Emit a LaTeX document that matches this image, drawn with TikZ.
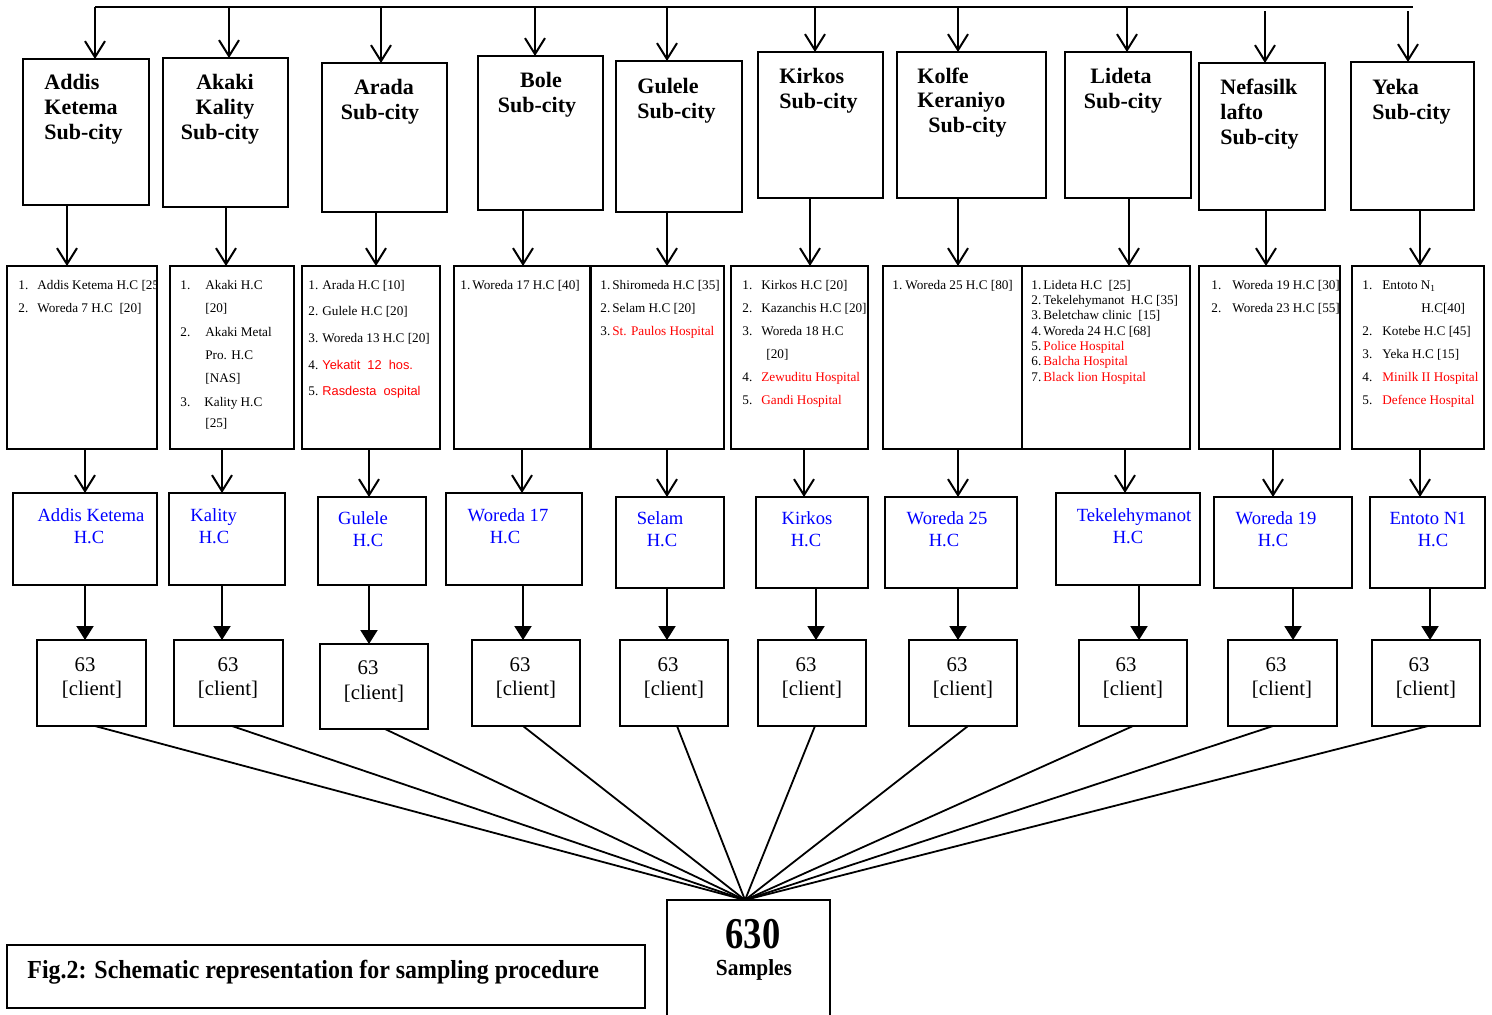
\documentclass[tikz,border=0pt]{standalone}
\usepackage{fontspec}
\setmainfont{Liberation Serif}
\newfontfamily\arialf{Liberation Sans}
\usetikzlibrary{arrows.meta}
\definecolor{hcblue}{RGB}{0,0,255}
\definecolor{hosred}{RGB}{255,0,0}
\newcounter{tcnt}
\newcommand\mytext[4]{\stepcounter{tcnt}\node[#1] (txt\arabic{tcnt}) at (#2,#3) {#4};}
\newcommand\mkbox[5]{\node[bx, minimum width={(#4-#2)*0.5pt}, minimum height={(#5-#3)*0.5pt}] (#1) at ({(#2+#4)/2},{(#3+#5)/2}) {};}
\begin{document}
\begin{tikzpicture}[x=0.5pt,y=-0.5pt,
  bx/.style={draw, line width=1pt, inner sep=0pt, outer sep=0pt, fill=none},
  va/.style={line width=1pt, -{Straight Barb[length=8pt,width=10pt,line width=1pt]}},
  fa/.style={line width=1pt, -{Triangle[length=7pt,width=8.5pt]}},
  fan/.style={line width=0.9pt},
  tt/.style={font=\bfseries\fontsize{11}{13}\selectfont, inner sep=0pt},
  ls/.style={font=\fontsize{6.6}{8}\selectfont, inner sep=0pt, anchor=base west},
  lr/.style={ls, text=hosred},
  la/.style={font=\arialf\fontsize{6.4}{8}\selectfont, inner sep=0pt, anchor=base west, text=hosred},
  hc/.style={font=\fontsize{9.3}{11}\selectfont, inner sep=0pt, text=hcblue, anchor=base},
  cl/.style={font=\fontsize{10.4}{12}\selectfont, inner sep=0pt, anchor=base}]
\useasboundingbox (0,0) rectangle (1492,1014);

% ---------- top sub-city boxes
\mkbox{tb1}{23}{59}{149}{205}
\mkbox{tb2}{163}{58}{288}{207}
\mkbox{tb3}{322}{63}{447}{212}
\mkbox{tb4}{478}{56}{603}{210}
\mkbox{tb5}{616}{61}{742}{212}
\mkbox{tb6}{758}{52}{883}{198}
\mkbox{tb7}{897}{52}{1046}{198}
\mkbox{tb8}{1065}{52}{1191}{198}
\mkbox{tb9}{1199}{63}{1325}{210}
\mkbox{tb10}{1351}{62}{1474}{210}

\mytext{tt,anchor=base west}{44}{89}{Addis}
\mytext{tt,anchor=base west}{44}{114}{Ketema}
\mytext{tt,anchor=base west}{44}{139}{Sub-city}
\mytext{tt,anchor=base}{225}{89}{Akaki}
\mytext{tt,anchor=base}{225}{114}{Kality}
\mytext{tt,anchor=base}{220}{139}{Sub-city}
\mytext{tt,anchor=base}{384}{94}{Arada}
\mytext{tt,anchor=base}{380}{119}{Sub-city}
\mytext{tt,anchor=base}{541}{87}{Bole}
\mytext{tt,anchor=base}{537}{112}{Sub-city}
\mytext{tt,anchor=base west}{637}{93}{Gulele}
\mytext{tt,anchor=base west}{637}{118}{Sub-city}
\mytext{tt,anchor=base west}{779}{83}{Kirkos}
\mytext{tt,anchor=base west}{779}{108}{Sub-city}
\mytext{tt,anchor=base west}{917}{83}{Kolfe}
\mytext{tt,anchor=base west}{917}{107}{Keraniyo}
\mytext{tt,anchor=base west}{928}{132}{Sub-city}
\mytext{tt,anchor=base}{1121}{83}{Lideta}
\mytext{tt,anchor=base}{1123}{108}{Sub-city}
\mytext{tt,anchor=base west}{1220}{94}{Nefasilk}
\mytext{tt,anchor=base west}{1220}{119}{lafto}
\mytext{tt,anchor=base west}{1220}{144}{Sub-city}
\mytext{tt,anchor=base west}{1372}{94}{Yeka}
\mytext{tt,anchor=base west}{1372}{119}{Sub-city}

% ---------- bus and drops
\coordinate (busL) at (95,7);
\coordinate (busR) at (1413,7);
\draw[line width=1pt] (busL) -- (busR);
\coordinate (d1) at (95,7);
\coordinate (d2) at (229,7);
\coordinate (d3) at (381,7);
\coordinate (d4) at (535,7);
\coordinate (d5) at (667,7);
\coordinate (d6) at (815,7);
\coordinate (d7) at (958,7);
\coordinate (d8) at (1127,7);
\coordinate (d9) at (1265,11);
\coordinate (d10) at (1408,11);
\foreach \i in {1,...,10}{\draw[va] (d\i) -- (tb\i.north -| d\i);}

% ---------- list boxes
\mkbox{lb1}{7}{266}{157}{449}
\mkbox{lb2}{170}{266}{294}{449}
\mkbox{lb3}{302}{266}{440}{449}
\mkbox{lb4}{454}{266}{590}{449}
\mkbox{lb5}{591}{266}{724}{449}
\mkbox{lb6}{731}{266}{868}{449}
\mkbox{lb7}{883}{266}{1022}{449}
\mkbox{lb8}{1022}{266}{1190}{449}
\mkbox{lb9}{1199}{266}{1340}{449}
\mkbox{lb10}{1352}{266}{1484}{449}

\coordinate (e1) at (67,0);
\coordinate (e2) at (226,0);
\coordinate (e3) at (376,0);
\coordinate (e4) at (523,0);
\coordinate (e5) at (667,0);
\coordinate (e6) at (810,0);
\coordinate (e7) at (958,0);
\coordinate (e8) at (1129,0);
\coordinate (e9) at (1266,0);
\coordinate (e10) at (1420,0);
\foreach \i in {1,...,10}{\draw[va] (tb\i.south -| e\i) -- (lb\i.north -| e\i);}

% list texts
\begin{scope}
\clip (lb1.south west) rectangle (lb1.north east);
\mytext{ls}{18}{289}{1.}
\mytext{ls}{37}{289}{Addis Ketema H.C [25]}
\mytext{ls}{18}{312}{2.}
\mytext{ls}{37}{312}{Woreda 7 H.C\ \ [20]}
\end{scope}

\mytext{ls}{180}{289}{1.}
\mytext{ls}{205}{289}{Akaki H.C}
\mytext{ls}{205}{312}{[20]}
\mytext{ls}{180}{336}{2.}
\mytext{ls}{205}{336}{Akaki Metal}
\mytext{ls}{205}{359}{Pro. H.C}
\mytext{ls}{205}{382}{[NAS]}
\mytext{ls}{180}{406}{3.}
\mytext{ls}{204}{406}{Kality H.C}
\mytext{ls}{205}{427}{[25]}

\mytext{ls}{308}{289}{1.}
\mytext{ls}{322}{289}{Arada H.C [10]}
\mytext{ls}{308}{315}{2.}
\mytext{ls}{322}{315}{Gulele H.C [20]}
\mytext{ls}{308}{342}{3.}
\mytext{ls}{322}{342}{Woreda 13 H.C [20]}
\mytext{ls}{308}{369}{4.}
\mytext{la}{322}{369}{Yekatit\ \ 12\ \ hos.}
\mytext{ls}{308}{395}{5.}
\mytext{la}{322}{395}{Rasdesta\ \ ospital}

\mytext{ls}{460}{289}{1.}
\mytext{ls}{472}{289}{Woreda 17 H.C [40]}

\mytext{ls}{600}{289}{1.}
\mytext{ls}{612}{289}{Shiromeda H.C [35]}
\mytext{ls}{600}{312}{2.}
\mytext{ls}{612}{312}{Selam H.C [20]}
\mytext{ls}{600}{335}{3.}
\mytext{lr}{612}{335}{St. Paulos Hospital}

\mytext{ls}{742}{289}{1.}
\mytext{ls}{761}{289}{Kirkos H.C [20]}
\mytext{ls}{742}{312}{2.}
\mytext{ls}{761}{312}{Kazanchis H.C [20]}
\mytext{ls}{742}{335}{3.}
\mytext{ls}{761}{335}{Woreda 18 H.C}
\mytext{ls}{766}{358}{[20]}
\mytext{ls}{742}{381}{4.}
\mytext{lr}{761}{381}{Zewuditu Hospital}
\mytext{ls}{742}{404}{5.}
\mytext{lr}{761}{404}{Gandi Hospital}

\mytext{ls}{892}{289}{1.}
\mytext{ls}{905}{289}{Woreda 25 H.C [80]}

\mytext{ls}{1031}{289}{1.}
\mytext{ls}{1043}{289}{Lideta H.C\ \ [25]}
\mytext{ls}{1031}{304}{2.}
\mytext{ls}{1043}{304}{Tekelehymanot\ \ H.C [35]}
\mytext{ls}{1031}{319}{3.}
\mytext{ls}{1043}{319}{Beletchaw clinic\ \ [15]}
\mytext{ls}{1031}{335}{4.}
\mytext{ls}{1043}{335}{Woreda 24 H.C [68]}
\mytext{ls}{1031}{350}{5.}
\mytext{lr}{1043}{350}{Police Hospital}
\mytext{ls}{1031}{365}{6.}
\mytext{lr}{1043}{365}{Balcha Hospital}
\mytext{ls}{1031}{381}{7.}
\mytext{lr}{1043}{381}{Black lion Hospital}

\begin{scope}
\clip (lb9.south west) rectangle (lb9.north east);
\mytext{ls}{1211}{289}{1.}
\mytext{ls}{1232}{289}{Woreda 19 H.C [30]}
\mytext{ls}{1211}{312}{2.}
\mytext{ls}{1232}{312}{Woreda 23 H.C [55]}
\end{scope}

\mytext{ls}{1362}{289}{1.}
\mytext{ls}{1382}{289}{Entoto N\textsubscript{1}}
\mytext{ls}{1421}{312}{H.C[40]}
\mytext{ls}{1362}{335}{2.}
\mytext{ls}{1382}{335}{Kotebe H.C [45]}
\mytext{ls}{1362}{358}{3.}
\mytext{ls}{1382}{358}{Yeka H.C [15]}
\mytext{ls}{1362}{381}{4.}
\mytext{lr}{1382}{381}{Minilk II Hospital}
\mytext{ls}{1362}{404}{5.}
\mytext{lr}{1382}{404}{Defence Hospital}

% ---------- health centre boxes
\mkbox{hb1}{13}{493}{157}{585}
\mkbox{hb2}{169}{493}{285}{585}
\mkbox{hb3}{318}{497}{426}{585}
\mkbox{hb4}{446}{493}{582}{585}
\mkbox{hb5}{616}{497}{724}{588}
\mkbox{hb6}{756}{497}{868}{588}
\mkbox{hb7}{885}{497}{1017}{588}
\mkbox{hb8}{1056}{493}{1200}{585}
\mkbox{hb9}{1214}{497}{1352}{588}
\mkbox{hb10}{1370}{497}{1485}{588}

\coordinate (g1) at (85,0);
\coordinate (g2) at (222,0);
\coordinate (g3) at (369,0);
\coordinate (g4) at (522,0);
\coordinate (g5) at (667,0);
\coordinate (g6) at (804,0);
\coordinate (g7) at (958,0);
\coordinate (g8) at (1125,0);
\coordinate (g9) at (1273,0);
\coordinate (g10) at (1420,0);
\foreach \i in {1,...,10}{\draw[va] (lb\i.south -| g\i) -- (hb\i.north -| g\i);}

\mytext{hc}{91}{521}{Addis Ketema}
\mytext{hc}{89}{543}{H.C}
\mytext{hc,anchor=base west}{190}{521}{Kality}
\mytext{hc}{214}{543}{H.C}
\mytext{hc}{363}{524}{Gulele}
\mytext{hc}{368}{546}{H.C}
\mytext{hc}{508}{521}{Woreda 17}
\mytext{hc}{505}{543}{H.C}
\mytext{hc}{660}{524}{Selam}
\mytext{hc}{662}{546}{H.C}
\mytext{hc}{807}{524}{Kirkos}
\mytext{hc}{806}{546}{H.C}
\mytext{hc}{947}{524}{Woreda 25}
\mytext{hc}{944}{546}{H.C}
\mytext{hc}{1134}{521}{Tekelehymanot}
\mytext{hc}{1128}{543}{H.C}
\mytext{hc}{1276}{524}{Woreda 19}
\mytext{hc}{1273}{546}{H.C}
\mytext{hc}{1428}{524}{Entoto N1}
\mytext{hc}{1433}{546}{H.C}

% ---------- client boxes
\mkbox{cb1}{37}{640}{146}{726}
\mkbox{cb2}{174}{640}{283}{726}
\mkbox{cb3}{320}{644}{428}{729}
\mkbox{cb4}{472}{640}{580}{726}
\mkbox{cb5}{620}{640}{728}{726}
\mkbox{cb6}{758}{640}{866}{726}
\mkbox{cb7}{909}{640}{1017}{726}
\mkbox{cb8}{1079}{640}{1187}{726}
\mkbox{cb9}{1228}{640}{1337}{726}
\mkbox{cb10}{1372}{640}{1480}{726}

\coordinate (h1) at (85,0);
\coordinate (h2) at (222,0);
\coordinate (h3) at (369,0);
\coordinate (h4) at (523,0);
\coordinate (h5) at (667,0);
\coordinate (h6) at (816,0);
\coordinate (h7) at (958,0);
\coordinate (h8) at (1139,0);
\coordinate (h9) at (1293,0);
\coordinate (h10) at (1430,0);
\foreach \i in {1,...,10}{\draw[fa] (hb\i.south -| h\i) -- (cb\i.north -| h\i);}

\foreach \i/\a/\b in {1/85/92,2/228/228,4/520/526,5/668/674,6/806/812,7/957/963,8/1126/1133,9/1276/1282,10/1419/1426}{
  \node[cl] (n63\i) at (\a,671) {63};
  \node[cl] (ncl\i) at (\b,695) {[client]};
}
\node[cl] (n633) at (368,674) {63};
\node[cl] (ncl3) at (374,699) {[client]};

% ---------- samples box and fan
\mkbox{sb}{667}{900}{830}{1020}
\coordinate (apex) at (745,900);
\coordinate (f1) at (95,0);
\coordinate (f2) at (232,0);
\coordinate (f3) at (385,0);
\coordinate (f4) at (523,0);
\coordinate (f5) at (677,0);
\coordinate (f6) at (815,0);
\coordinate (f7) at (968,0);
\coordinate (f8) at (1133,0);
\coordinate (f9) at (1273,0);
\coordinate (f10) at (1428,0);
\foreach \i in {1,...,10}{\draw[fan] (cb\i.south -| f\i) -- (apex);}

\node[inner sep=0pt, anchor=base, font=\bfseries\fontsize{22}{24}\selectfont] (n630) at (753,948) {\scalebox{0.83}[1]{630}};
\node[inner sep=0pt, anchor=base, font=\bfseries\fontsize{11.5}{13}\selectfont] (nsamp) at (754,975) {\scalebox{0.93}[1]{Samples}};

% ---------- caption
\mkbox{cap}{7}{945}{645}{1008}
\node[inner sep=0pt, anchor=base west, font=\bfseries\fontsize{13}{15}\selectfont] (capt) at (27,978) {\scalebox{0.92}[1]{Fig.2: Schematic representation for sampling procedure}};
\end{tikzpicture}
\end{document}
